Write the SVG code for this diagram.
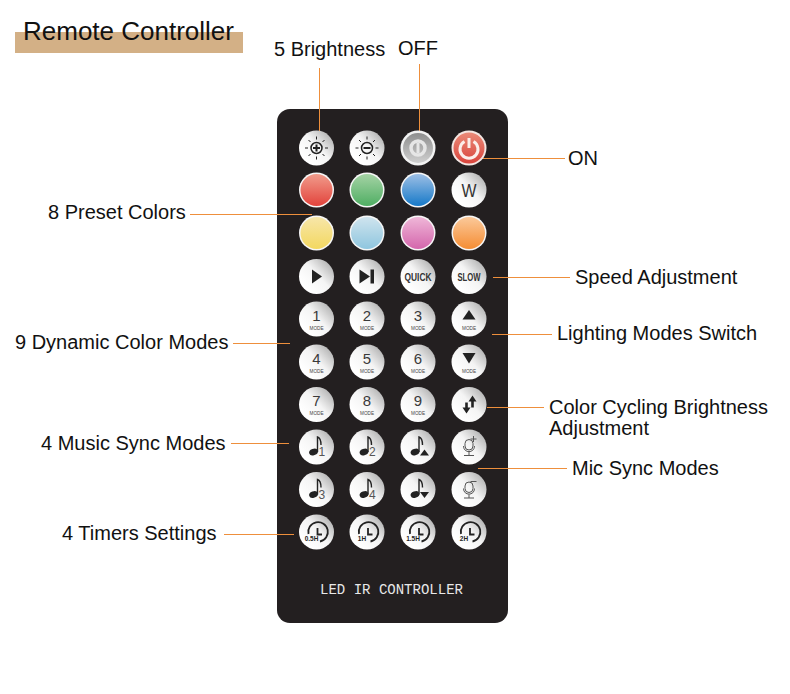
<svg xmlns="http://www.w3.org/2000/svg" xmlns:xlink="http://www.w3.org/1999/xlink" width="790" height="694" viewBox="0 0 790 694">
<style>
text{font-family:"Liberation Sans",Arial,sans-serif}
.lb{font-size:20px;fill:#111}
.cn{fill:none;stroke:#ee8f3c;stroke-width:1}
.num{font-size:15px;fill:#3a3a3a;text-anchor:middle}
.md{font-size:6px;fill:#444;text-anchor:middle}
.sp{font-size:11px;fill:#333;text-anchor:middle;font-weight:bold}
.tm{font-size:6.5px;fill:#222;text-anchor:middle;font-weight:bold}
.sub{font-size:12px;fill:#555}
.ic{fill:#222}
.st{fill:none;stroke:#222}
</style>
<defs>
<linearGradient id="w" x1="0.2" y1="0.8" x2="0.9" y2="0.15"><stop offset="0" stop-color="#fff"/><stop offset="0.5" stop-color="#f4f4f4"/><stop offset="1" stop-color="#b5b5b5"/></linearGradient>
<linearGradient id="r" x1="0" y1="0" x2="0" y2="1"><stop offset="0" stop-color="#f19c8c"/><stop offset="1" stop-color="#e2433c"/></linearGradient>
<linearGradient id="g" x1="0" y1="0" x2="0" y2="1"><stop offset="0" stop-color="#a5d3a5"/><stop offset="1" stop-color="#4fae63"/></linearGradient>
<linearGradient id="b" x1="0" y1="0" x2="0" y2="1"><stop offset="0" stop-color="#9dbfe5"/><stop offset="1" stop-color="#1679c8"/></linearGradient>
<linearGradient id="y" x1="0" y1="0" x2="0" y2="1"><stop offset="0" stop-color="#f7e6a9"/><stop offset="1" stop-color="#f3d860"/></linearGradient>
<linearGradient id="c" x1="0" y1="0" x2="0" y2="1"><stop offset="0" stop-color="#cfe4ee"/><stop offset="1" stop-color="#8fc6df"/></linearGradient>
<linearGradient id="p" x1="0" y1="0" x2="0" y2="1"><stop offset="0" stop-color="#efb7d8"/><stop offset="1" stop-color="#d466ac"/></linearGradient>
<linearGradient id="o" x1="0" y1="0" x2="0" y2="1"><stop offset="0" stop-color="#fbc99a"/><stop offset="1" stop-color="#f58d34"/></linearGradient>
<linearGradient id="gy" x1="0.5" y1="0" x2="0.5" y2="1"><stop offset="0" stop-color="#8e8e8e"/><stop offset="1" stop-color="#cfcfcf"/></linearGradient>
<linearGradient id="pw" x1="0" y1="0" x2="0" y2="1"><stop offset="0" stop-color="#ea8a78"/><stop offset="1" stop-color="#d9443c"/></linearGradient>
<circle id="btn" r="17.500" fill="url(#w)"/>
<circle id="ring" r="17.500" fill="#f6f6f6"/>
<g id="rays" class="st"><path d="M0-11.500v3M0 8.500v3M-11.500 0h3M8.500 0h3M-8-8l2 2M6 6l2 2M8-8l-2 2M-6 6l-2 2" stroke-width="1"/><circle r="5.500" stroke-width="1.500"/></g>
<g id="note"><ellipse cx="-3" cy="5" rx="4.500" ry="3.200" class="ic" transform="rotate(-20 -3 5)"/><path d="M1 5V-10Q4.500-9 4.500-2" fill="none" stroke="#222" stroke-width="1.400"/></g>
<g id="clock"><path d="M-8 2A9.800 9.800 0 1 1 3.500 9.500" fill="none" stroke="#222" stroke-width="1.800"/><path d="M1-4V2.500H5.500" fill="none" stroke="#222" stroke-width="1.800"/></g>
<g id="mic"><rect x="-4" y="-7.500" width="8" height="10.500" rx="4" fill="none" stroke="#555"/><path d="M-5.500-1C-5.500 6.500 5.500 6.500 5.500-1M0 5v3.500M-5 8.500H5" fill="none" stroke="#555"/></g>
</defs>
<rect width="790" height="694" fill="#fff"/>
<g id="title"><rect x="15" y="32" width="228" height="21" fill="#d3b086"/><text x="23" y="40" font-size="26" fill="#111">Remote Controller</text></g>
<g id="remote"><rect x="277" y="109" width="231" height="514" rx="13" fill="#231f20"/><text x="391.500" y="594" font-size="15" fill="#e8e8e8" text-anchor="middle" textLength="143" lengthAdjust="spacingAndGlyphs" style="font-family:'Liberation Mono',monospace">LED IR CONTROLLER</text></g>
<g id="connectors" class="cn">
<path d="M319.500 68V137"/><path d="M419.500 64V136"/><path d="M482 158.500H565"/><path d="M190 214.500H312"/><path d="M493 277.500H570"/><path d="M492 334.500H552"/><path d="M233 343.500H290"/><path d="M487 407.500H544"/><path d="M231 443.500H289"/><path d="M478 468.500H567"/><path d="M224 534.500H294"/>
</g>
<g id="labels">
<text id="l1" class="lb" x="274" y="56">5 Brightness</text>
<text id="l2" class="lb" x="398" y="55">OFF</text>
<text id="l3" class="lb" x="568" y="165">ON</text>
<text id="l4" class="lb" x="48" y="219">8 Preset Colors</text>
<text id="l5" class="lb" x="575" y="284">Speed Adjustment</text>
<text id="l6" class="lb" x="557" y="340">Lighting Modes Switch</text>
<text id="l7" class="lb" x="15" y="349">9 Dynamic Color Modes</text>
<text id="l8" class="lb" x="549" y="414">Color Cycling Brightness</text>
<text id="l9" class="lb" x="549" y="435">Adjustment</text>
<text id="l10" class="lb" x="41" y="450">4 Music Sync Modes</text>
<text id="l11" class="lb" x="572" y="475">Mic Sync Modes</text>
<text id="l12" class="lb" x="62" y="540">4 Timers Settings</text>
</g>
<g id="b-up" transform="translate(316.500 148)"><use xlink:href="#btn"/><use xlink:href="#rays"/><path d="M0-3.500V3.500M-3.500 0H3.500" stroke="#222" stroke-width="2"/></g>
<g id="b-down" transform="translate(367 148)"><use xlink:href="#btn"/><use xlink:href="#rays"/><path d="M-3.500 0H3.500" stroke="#222" stroke-width="2"/></g>
<g id="b-off" transform="translate(418 148)"><circle r="17.500" fill="#f2f2f2"/><circle r="15" fill="url(#gy)"/><circle r="7" fill="none" stroke="#e6e6e6" stroke-width="3.500"/><rect x="-1.500" y="-5" width="3" height="10" fill="#e6e6e6"/></g>
<g id="b-on" transform="translate(469 148)"><circle r="17.500" fill="#f3e6e2"/><circle r="15.500" fill="url(#pw)"/><path d="M-4.500-6.500A9 9 0 1 0 4.500-6.500" fill="none" stroke="#fbeeea" stroke-width="3"/><path d="M0-10V0" stroke="#fbeeea" stroke-width="3"/></g>
<g id="c-red" transform="translate(316.500 190)"><use xlink:href="#ring"/><circle r="16" fill="url(#r)"/></g>
<g id="c-green" transform="translate(367 190)"><use xlink:href="#ring"/><circle r="16" fill="url(#g)"/></g>
<g id="c-blue" transform="translate(418 190)"><use xlink:href="#ring"/><circle r="16" fill="url(#b)"/></g>
<g id="c-white" transform="translate(469 190)"><use xlink:href="#btn"/><text x="0" y="7" font-size="18" fill="#333" text-anchor="middle" textLength="15" lengthAdjust="spacingAndGlyphs">W</text></g>
<g id="c-yellow" transform="translate(316.500 233)"><use xlink:href="#ring"/><circle r="16" fill="url(#y)"/></g>
<g id="c-cyan" transform="translate(367 233)"><use xlink:href="#ring"/><circle r="16" fill="url(#c)"/></g>
<g id="c-pink" transform="translate(418 233)"><use xlink:href="#ring"/><circle r="16" fill="url(#p)"/></g>
<g id="c-orange" transform="translate(469 233)"><use xlink:href="#ring"/><circle r="16" fill="url(#o)"/></g>
<g id="b-play" transform="translate(316.500 276.500)"><use xlink:href="#btn"/><path class="ic" d="M-4.500-7L5.500 0L-4.500 7Z"/></g>
<g id="b-next" transform="translate(367 276.500)"><use xlink:href="#btn"/><path class="ic" d="M-7.500-7L3 0L-7.500 7ZM3.500-7H7V7H3.500Z"/></g>
<g id="b-quick" transform="translate(418 276.500)"><use xlink:href="#btn"/><text class="sp" y="4" textLength="27" lengthAdjust="spacingAndGlyphs">QUICK</text></g>
<g id="b-slow" transform="translate(469 276.500)"><use xlink:href="#btn"/><text class="sp" y="4" textLength="23" lengthAdjust="spacingAndGlyphs">SLOW</text></g>
<g id="m1" transform="translate(316.500 319)"><use xlink:href="#btn"/><text class="num" y="1.500">1</text><text class="md" y="10.500" textLength="14" lengthAdjust="spacingAndGlyphs">MODE</text></g>
<g id="m2" transform="translate(367 319)"><use xlink:href="#btn"/><text class="num" y="1.500">2</text><text class="md" y="10.500" textLength="14" lengthAdjust="spacingAndGlyphs">MODE</text></g>
<g id="m3" transform="translate(418 319)"><use xlink:href="#btn"/><text class="num" y="1.500">3</text><text class="md" y="10.500" textLength="14" lengthAdjust="spacingAndGlyphs">MODE</text></g>
<g id="m-up" transform="translate(469 319)"><use xlink:href="#btn"/><path class="ic" d="M-6.500 0.500L0-9L6.500 0.500Z"/><text class="md" y="10.500" textLength="14" lengthAdjust="spacingAndGlyphs">MODE</text></g>
<g id="m4" transform="translate(316.500 362)"><use xlink:href="#btn"/><text class="num" y="1.500">4</text><text class="md" y="10.500" textLength="14" lengthAdjust="spacingAndGlyphs">MODE</text></g>
<g id="m5" transform="translate(367 362)"><use xlink:href="#btn"/><text class="num" y="1.500">5</text><text class="md" y="10.500" textLength="14" lengthAdjust="spacingAndGlyphs">MODE</text></g>
<g id="m6" transform="translate(418 362)"><use xlink:href="#btn"/><text class="num" y="1.500">6</text><text class="md" y="10.500" textLength="14" lengthAdjust="spacingAndGlyphs">MODE</text></g>
<g id="m-down" transform="translate(469 362)"><use xlink:href="#btn"/><path class="ic" d="M-6.500-9L0 1.500L6.500-9Z"/><text class="md" y="10.500" textLength="14" lengthAdjust="spacingAndGlyphs">MODE</text></g>
<g id="m7" transform="translate(316.500 404.500)"><use xlink:href="#btn"/><text class="num" y="1.500">7</text><text class="md" y="10.500" textLength="14" lengthAdjust="spacingAndGlyphs">MODE</text></g>
<g id="m8" transform="translate(367 404.500)"><use xlink:href="#btn"/><text class="num" y="1.500">8</text><text class="md" y="10.500" textLength="14" lengthAdjust="spacingAndGlyphs">MODE</text></g>
<g id="m9" transform="translate(418 404.500)"><use xlink:href="#btn"/><text class="num" y="1.500">9</text><text class="md" y="10.500" textLength="14" lengthAdjust="spacingAndGlyphs">MODE</text></g>
<g id="b-cycle" transform="translate(469 404.500)"><use xlink:href="#btn"/><path class="ic" d="M-2.500 9L-6.500 3H-3.800V-2H-1.200V3H1.500ZM3.500 -9L7.500 -3H4.800V3H2.200V-3H-0.500Z"/></g>
<g id="n1" transform="translate(316.500 447)"><use xlink:href="#btn"/><use xlink:href="#note"/><text class="sub" x="2" y="9">1</text></g>
<g id="n2" transform="translate(367 447)"><use xlink:href="#btn"/><use xlink:href="#note"/><text class="sub" x="2" y="9">2</text></g>
<g id="n-up" transform="translate(418 447)"><use xlink:href="#btn"/><use xlink:href="#note"/><path class="ic" d="M2 8.500L6.500 2.500L11 8.500Z"/></g>
<g id="mic-up" transform="translate(469 447)"><use xlink:href="#btn"/><use xlink:href="#mic"/><path d="M1.500-8h6M4.500-11v6" stroke="#555" stroke-width="1"/></g>
<g id="n3" transform="translate(316.500 489.500)"><use xlink:href="#btn"/><use xlink:href="#note"/><text class="sub" x="2" y="9">3</text></g>
<g id="n4" transform="translate(367 489.500)"><use xlink:href="#btn"/><use xlink:href="#note"/><text class="sub" x="2" y="9">4</text></g>
<g id="n-down" transform="translate(418 489.500)"><use xlink:href="#btn"/><use xlink:href="#note"/><path class="ic" d="M2 2.500L6.500 8.500L11 2.500Z"/></g>
<g id="mic-down" transform="translate(469 489.500)"><use xlink:href="#btn"/><use xlink:href="#mic"/><path d="M1.500-8h6" stroke="#555" stroke-width="1"/></g>
<g id="t1" transform="translate(316.500 532)"><use xlink:href="#btn"/><use xlink:href="#clock"/><text class="tm" x="-5" y="9">0.5H</text></g>
<g id="t2" transform="translate(367 532)"><use xlink:href="#btn"/><use xlink:href="#clock"/><text class="tm" x="-5" y="9">1H</text></g>
<g id="t3" transform="translate(418 532)"><use xlink:href="#btn"/><use xlink:href="#clock"/><text class="tm" x="-5" y="9">1.5H</text></g>
<g id="t4" transform="translate(469 532)"><use xlink:href="#btn"/><use xlink:href="#clock"/><text class="tm" x="-5" y="9">2H</text></g>
</svg>
